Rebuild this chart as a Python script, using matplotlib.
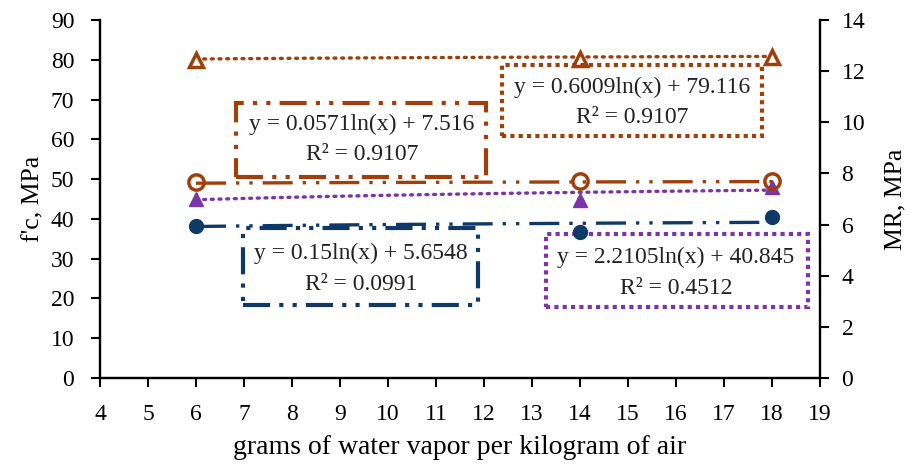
import numpy as np
import matplotlib.pyplot as plt
from matplotlib.patches import Rectangle

# humidity levels (g water vapor / kg air)
humidity = [6, 14, 18]

# f'c, MPa (left axis)
fc_a = [80.0, 80.3, 80.8]   # open triangles
fc_b = [45.0, 44.8, 48.0]   # filled triangles

# MR, MPa (right axis)
mr_a = [7.65, 7.70, 7.70]   # open circles
mr_b = [5.95, 5.72, 6.28]   # filled circles

# log trendline coefficients y = a*ln(x) + b, R^2
fit_fc_a = (0.6009, 79.116, 0.9107)
fit_fc_b = (2.2105, 40.845, 0.4512)
fit_mr_a = (0.0571, 7.516, 0.9107)
fit_mr_b = (0.15, 5.6548, 0.0991)

orange = '#9E3F0C'
purple = '#7B35A8'
navy = '#0F3A68'

plt.rcParams['font.family'] = ['Liberation Serif', 'DejaVu Serif']

fig = plt.figure(figsize=(9.11, 4.71), dpi=100)
ax = fig.add_axes([100/911, 1-378/471, 720/911, 358/471])
ax2 = ax.twinx()

xs = np.linspace(humidity[0], humidity[-1], 100)
dash2dot = (0, (9, 3, 1, 3, 1, 3))
box_dash2dot = (0, (6.5, 2.2, 1, 2.2, 1, 2.2))
dots = (0, (0.6, 1.7))

def trend(fit):
    return fit[0]*np.log(xs) + fit[1]

ax.plot(xs, trend(fit_fc_a), color=orange, lw=2.4, ls=dots, dash_capstyle='round')
ax.plot(xs, trend(fit_fc_b), color=purple, lw=2.4, ls=dots, dash_capstyle='round')
ax2.plot(xs, trend(fit_mr_a), color=orange, lw=2.4, ls=dash2dot)
ax2.plot(xs, trend(fit_mr_b), color=navy, lw=2.4, ls=dash2dot)

ax.plot(humidity, fc_a, ls='none', marker='^', ms=10, mfc='white', mec=orange, mew=2.5, zorder=5)
ax.plot(humidity, fc_b, ls='none', marker='^', ms=10, mfc=purple, mec=purple, zorder=5)
ax2.plot(humidity, mr_a, ls='none', marker='o', ms=11, mfc='none', mec=orange, mew=2.5, zorder=5)
ax2.plot(humidity, mr_b, ls='none', marker='o', ms=10, mfc=navy, mec=navy, zorder=5)

ax.set_xlim(4, 19)
ax.set_ylim(0, 90)
ax2.set_ylim(0, 14)
ax.set_xticks(range(4, 20))
ax.set_yticks(range(0, 91, 10))
ax2.set_yticks(range(0, 15, 2))

for a in (ax, ax2):
    a.spines['top'].set_visible(False)
    for s in a.spines.values():
        s.set_linewidth(1.6)
    a.tick_params(labelsize=17, width=1.5, length=6.5)
ax.tick_params(axis='x', pad=12)
ax.tick_params(axis='y', pad=12)
ax2.tick_params(axis='y', pad=9)

ax.set_xlabel('grams of water vapor per kilogram of air', fontsize=20)
ax.xaxis.set_label_coords(0.5, -0.16)
ax.set_ylabel("f'c, MPa", fontsize=18.5)
ax.yaxis.set_label_coords(-0.077, 0.5)
ax2.set_ylabel('MR, MPa', fontsize=18.5)
ax2.yaxis.set_label_coords(1.09, 0.5)

# trendline label boxes (axes fraction)
boxes = [
    (fit_mr_a, orange, box_dash2dot, (0.189, 0.561, 0.347, 0.207), 0.364, (0.707, 0.623)),
    (fit_fc_a, orange, (0, (1, 1)), (0.558, 0.676, 0.361, 0.198), 0.739, (0.813, 0.729)),
    (fit_mr_b, navy, box_dash2dot, (0.199, 0.204, 0.326, 0.215), 0.3625, (0.349, 0.260)),
    (fit_fc_b, purple, (0, (1, 1)), (0.619, 0.198, 0.364, 0.204), 0.80, (0.338, 0.251)),
]
for fit, col, ls, (bx, by, bw, bh), tx, (ty1, ty2) in boxes:
    ax2.add_patch(Rectangle((bx, by), bw, bh, transform=ax.transAxes, fill=False,
                            ec=col, lw=3, ls=ls, clip_on=False, zorder=3))
    ax2.text(tx, ty1, 'y = {}ln(x) + {}'.format(fit[0], fit[1]), transform=ax.transAxes,
             ha='center', va='center', fontsize=17, color='#222222', zorder=6)
    ax2.text(tx, ty2, 'R² = {:.4f}'.format(fit[2]), transform=ax.transAxes,
             ha='center', va='center', fontsize=17, color='#222222', zorder=6)

fig.savefig('out.png', dpi=100)
